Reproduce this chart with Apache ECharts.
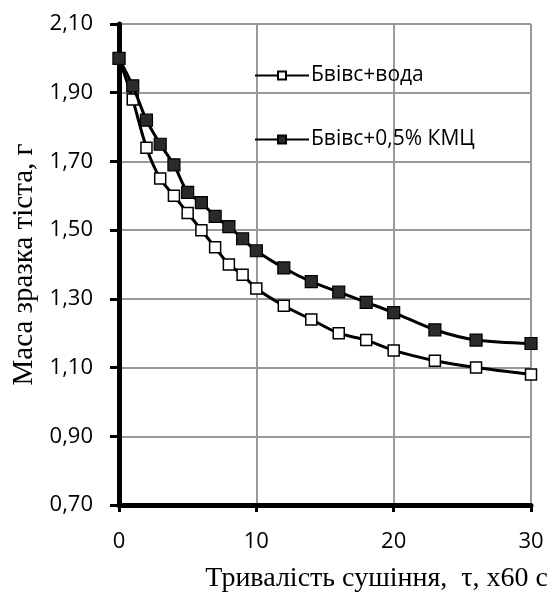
<!DOCTYPE html>
<html>
<head>
<meta charset="utf-8">
<script src="https://cdn.jsdelivr.net/npm/echarts@6/dist/echarts.min.js"></script>
<style>
  html, body { margin: 0; padding: 0; background: #fff; }
  #chart { width: 552px; height: 594px; }
</style>
</head>
<body>
<div id="chart"></div>
<script>
// час сушіння, x60 с
var timeX = [0, 1, 2, 3, 4, 5, 6, 7, 8, 9, 10, 12, 14, 16, 18, 20, 23, 26, 30];
// Бвівс+вода
var waterMass = [2.00, 1.88, 1.74, 1.65, 1.60, 1.55, 1.50, 1.45, 1.40, 1.37, 1.33, 1.28, 1.24, 1.20, 1.18, 1.15, 1.12, 1.10, 1.08];
// Бвівс+0,5% КМЦ
var kmcMass = [2.00, 1.92, 1.82, 1.75, 1.69, 1.61, 1.58, 1.54, 1.51, 1.475, 1.44, 1.39, 1.35, 1.32, 1.29, 1.26, 1.21, 1.18, 1.17];

var seriesNames = ["Бвівс+вода", "Бвівс+0,5% КМЦ"];

function pairs(xs, ys) {
  return xs.map(function (x, i) { return [x, ys[i]]; });
}

var labelFont = "'Open Sans', 'Liberation Sans', sans-serif";
var serifFont = "'Liberation Serif', 'DejaVu Serif', serif";

var option = {
  backgroundColor: "#fff",
  animation: false,
  grid: { left: 119, top: 24, right: 21, bottom: 89, containLabel: false, outerBoundsMode: "none" },
  legend: {
    left: 249,
    top: 60,
    orient: "vertical",
    itemGap: 43,
    itemWidth: 54,
    itemHeight: 10,
    data: seriesNames,
    textStyle: { fontFamily: labelFont, fontSize: 21, color: "#000", padding: [0, 0, 0, -3] }
  },
  xAxis: {
    type: "value",
    min: 0,
    max: 30,
    interval: 10,
    axisLine: { show: true, onZero: false, lineStyle: { color: "#000", width: 5 } },
    axisTick: { show: true, length: 7, lineStyle: { color: "#000", width: 3 } },
    axisLabel: { margin: 26, color: "#000", fontFamily: labelFont, fontSize: 22 },
    splitLine: { show: true, lineStyle: { color: "#999", width: 2 } }
  },
  yAxis: {
    type: "value",
    min: 0.7,
    max: 2.1,
    interval: 0.2,
    name: "Маса зразка тіста, г",
    nameLocation: "middle",
    nameGap: 80,
    nameTextStyle: { fontFamily: serifFont, fontSize: 29, color: "#000" },
    axisLine: { show: true, onZero: false, lineStyle: { color: "#000", width: 5 } },
    axisTick: { show: true, inside: false, length: 9, lineStyle: { color: "#000", width: 3 } },
    axisLabel: {
      margin: 26,
      color: "#000",
      fontFamily: labelFont,
      fontSize: 22,
      formatter: function (v) { return v.toFixed(2).replace(".", ","); }
    },
    splitLine: { show: true, lineStyle: { color: "#999", width: 2 } }
  },
  graphic: [
    {
      type: "text",
      right: 4,
      top: 565,
      style: { text: "Тривалість сушіння,  τ, x60 с", font: "28px " + serifFont, fill: "#000" }
    }
  ],
  series: [
    {
      name: seriesNames[0],
      type: "line",
      smooth: 0.3,
      data: pairs(timeX, waterMass),
      symbol: "rect",
      symbolSize: 11,
      lineStyle: { color: "#000", width: 3 },
      itemStyle: { color: "#fff", borderColor: "#000", borderWidth: 1.5 },
      z: 2
    },
    {
      name: seriesNames[1],
      type: "line",
      smooth: 0.3,
      data: pairs(timeX, kmcMass),
      symbol: "rect",
      symbolSize: 12,
      lineStyle: { color: "#000", width: 3 },
      itemStyle: { color: "#2a2a2a", borderColor: "#000", borderWidth: 1.2 },
      z: 3
    }
  ]
};

var chart = echarts.init(document.getElementById("chart"), null, { renderer: "canvas" });
chart.setOption(option);
</script>
</body>
</html>
